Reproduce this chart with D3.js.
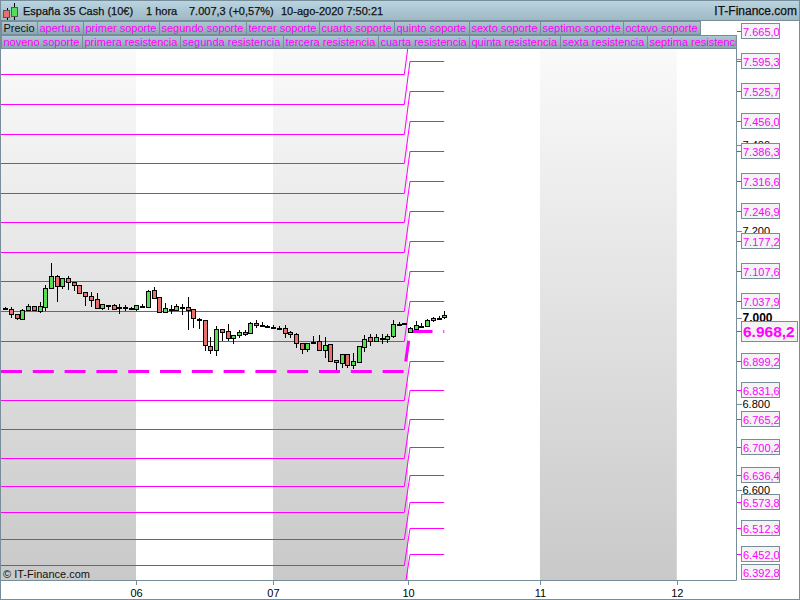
<!DOCTYPE html>
<html><head><meta charset="utf-8">
<script src="https://cdn.jsdelivr.net/npm/d3@7"></script>
<style>html,body{margin:0;padding:0;background:#fff}svg{display:block}text{font-family:"Liberation Sans",Arial,sans-serif}</style>
</head><body><svg id="c" width="800" height="600"></svg>
<script>
const open=[7021.8,7021,7007.8,6997.8,7018.7,7026.4,7015.6,7025.6,7068.2,7096.1,7074.4,7091.4,7082.1,7075.2,7058.9,7049.6,7042.7,7023.3,7029.5,7028.7,7024.9,7024.9,7023.3,7021,
7027.9,7025.6,7064.3,7047.2,7014,7020.1,7018.6,7024,7024,7019.4,6997.3,6993.8,6933.5,6925.7,6972.9,6968.3,6953.6,6960.6,6966,6963.6,6986.9,6983.4,6981.1,6978.7,
6976.5,6975.3,6966,6961.4,6940.5,6928.1,6940.5,6945.9,6925.8,6938.2,6901.8,6895.6,6914.9,6891,6897.9,6931.2,6954.4,6946.7,6953.2,6951.3,6956.7,6985.8,6986.9,6967.6,6974.5,6981.5,6979.9,6993.9,6999.7,7000.8];
const high=[7024.1,7024.1,7007.8,7019.5,7031.1,7026.4,7036.5,7075.9,7127,7098.4,7091.4,7096.1,7083.7,7075.2,7058.9,7059.7,7057.4,7031.1,7030.3,7031.1,7031.1,7029.5,7024.1,7028.7,
7032.5,7063.5,7070.5,7047.2,7033.3,7028.7,7032.5,7031.8,7047.2,7019.4,6998.5,6993.8,6954.4,6979.9,6972.9,6984.6,6960.6,6970.6,6970.6,6989.2,6993.8,6990.7,6982.2,6983,
6980.7,6983,6968.3,6963.7,6940.5,6940.5,6957.5,6959.8,6955.2,6938.2,6901.8,6914.9,6914.9,6918,6933.5,6959,6961.4,6961.4,6961.4,6961.4,6993.9,6990.8,6987.6,6977.6,6992.3,6986.9,6996.2,7000.8,7004.7,7014.8];
const low=[7019.5,7000.1,6995.5,6995.5,7014.8,7015.6,7011.7,7015.6,7068.2,7037.2,7066.7,7064.3,7062,7058.1,7028,7024.9,7023.3,7018.7,7018.7,7021,7009.4,7016.4,7021,7016.4,
7024,7022.5,7046.5,7012.4,7012.4,7009.3,7016.3,7007,6972.2,6976.8,6972.9,6923.4,6916.5,6911.8,6945.9,6946.6,6939.7,6953.6,6956.7,6963.6,6975.3,6979.1,6979.9,6975.3,
6972.2,6953.6,6952.1,6930.4,6916.5,6920.4,6940.5,6925.8,6906.4,6896.4,6878.6,6884,6884,6881.7,6894,6921.1,6935.1,6945.1,6939.7,6942,6953.6,6979.9,6986.2,6965.2,6971.4,6975.3,6977.6,6989.2,6993.9,6996.2];
const close=[7021.8,7007.8,7000.1,7018.7,7026.4,7018.7,7026.4,7068.2,7096.1,7074.4,7091.4,7082.1,7076.7,7058.1,7049.6,7041.9,7023.3,7031.1,7029.5,7021,7024.9,7024.9,7023.3,7028.7,
7027.9,7061.9,7046.5,7012.4,7021.7,7020.1,7026.3,7024,7018.6,6998.5,6997.3,6935.8,6925.7,6972.9,6966,6953.6,6960.6,6966,6961.3,6986.9,6982.2,6983.4,6981.1,6978.7,
6976.5,6965.2,6961.4,6940.5,6928.1,6940.5,6944.3,6925.8,6935.8,6900.2,6896.4,6914.9,6891,6898.7,6933.5,6951.3,6946.7,6954.4,6953.2,6956.7,6984.6,6985.8,6986.9,6975.3,6982.3,6981.5,6993.9,6998.5,6999.7,7005.5];
const previousLevels=[7564.8,7495.2,7425.7,7358.5,7289,7221.8,7152.3,7085,7015.5,6946,6876.5,6809.3,6742.1,6674.9,6610,6549.7,6487.1,6426.9,6369,6311];
const currentLevels=[7665,7595.3,7525.7,7456,7386.3,7316.6,7246.9,7177.2,7107.6,7037.9,6968.2,6899.2,6831.6,6765.2,6700.2,6636.4,6573.8,6512.3,6452,6392.8];
const pivotIndex=10;
const levelBreak=[70,71];
const lastBar=77;
const priceTicks=[7600,7400,7200,7000,6800,6600];
const dayLabels=["06","07","10","11","12"];
const dayPositions=[22.93,46.96,70.65,93.8,117.8];
const tabsRow1=["Precio","apertura","primer soporte","segundo soporte","tercer soporte","cuarto soporte","quinto soporte","sexto soporte","septimo soporte","octavo soporte"];
const tabsRow2=["noveno soporte","primera resistencia","segunda resistencia","tercera resistencia","cuarta resistencia","quinta resistencia","sexta resistencia","septima resistencia"];

const M={l:1,r:736,t:48,b:580};
const svg=d3.select("#c");
const x=d3.scaleLinear().domain([0,77]).range([5.3,444.2]);
const y=d3.scaleLinear().domain([7625,6392.1]).range([M.t,M.b]);
const fmt=d=>d3.format(",.1f")(d).replace(/,/g,"#").replace(".",",").replace("#",".");
const defs=svg.append("defs");
const g1=defs.append("linearGradient").attr("id","band").attr("x1",0).attr("x2",0).attr("y1",0).attr("y2",1);
g1.append("stop").attr("offset",0).attr("stop-color","#fafafa");g1.append("stop").attr("offset",1).attr("stop-color","#c9c9c9");
const g2=defs.append("linearGradient").attr("id","hdr").attr("x1",0).attr("x2",0).attr("y1",0).attr("y2",1);
g2.append("stop").attr("offset",0).attr("stop-color","#bad6e2");g2.append("stop").attr("offset",1).attr("stop-color","#9db7c3");
const g3=defs.append("linearGradient").attr("id","tab").attr("x1",0).attr("x2",0).attr("y1",0).attr("y2",1);
g3.append("stop").attr("offset",0).attr("stop-color","#aec8d4");g3.append("stop").attr("offset",1).attr("stop-color","#8aa5b1");
defs.append("clipPath").attr("id","plot").append("rect").attr("x",M.l).attr("y",M.t).attr("width",M.r-M.l).attr("height",M.b-M.t);

const frame="#778d99";
svg.append("rect").attr("width",800).attr("height",600).attr("fill","#fff");
const bandEdges=[x.invert(M.l),dayPositions[0],dayPositions[1],dayPositions[2],dayPositions[3],dayPositions[4]];
const bands=[[bandEdges[0],bandEdges[1]],[bandEdges[2],bandEdges[3]],[bandEdges[4],bandEdges[5]]];
svg.append("g").selectAll("rect").data(bands).join("rect")
 .attr("x",d=>x(d[0])).attr("width",d=>x(d[1])-x(d[0])).attr("y",M.t).attr("height",M.b-M.t).attr("fill","url(#band)");

const plot=svg.append("g").attr("clip-path","url(#plot)");
const line=d3.line().x(d=>x(d[0])).y(d=>Math.round(y(d[1]))+0.5);
const series=previousLevels.map((p,i)=>[[x.invert(M.l),p],[levelBreak[0],p],[levelBreak[1],currentLevels[i]],[lastBar,currentLevels[i]]]);
plot.append("g").selectAll("path").data(series).join("path")
 .attr("d",line).attr("fill","none").attr("stroke","#ff00ff")
 .attr("stroke-width",(d,i)=>i===pivotIndex?3:1)
 .attr("stroke-dasharray",(d,i)=>i===pivotIndex?"21 10.8":null);

const candles=plot.append("g").selectAll("g").data(open.map((o,i)=>({i,o,h:high[i],l:low[i],c:close[i]}))).join("g");
candles.append("line").attr("x1",d=>Math.round(x(d.i))+.5).attr("x2",d=>Math.round(x(d.i))+.5)
 .attr("y1",d=>Math.round(y(d.h))).attr("y2",d=>Math.round(y(d.l))).attr("stroke","#000").attr("shape-rendering","crispEdges");
candles.append("rect").attr("x",d=>Math.round(x(d.i))-1.5).attr("width",4)
 .attr("y",d=>Math.round(y(Math.max(d.o,d.c)))+.5)
 .attr("height",d=>Math.max(1,Math.round(y(Math.min(d.o,d.c)))-Math.round(y(Math.max(d.o,d.c)))))
 .attr("fill",d=>d.o===d.c?"#000":d.c>d.o?"#55dd55":"#e8706a").attr("stroke","#000").attr("shape-rendering","crispEdges");

const axR=svg.append("g").attr("transform",`translate(${M.r+.5},0)`).call(d3.axisRight(y).tickValues(priceTicks).tickSize(5).tickPadding(1).tickFormat(d=>d3.format(",")(d).replace(",",".")));
axR.select(".domain").remove();
axR.selectAll("line").attr("stroke",frame).attr("shape-rendering","crispEdges");
axR.selectAll("text").attr("font-size",d=>d===7000?12:11).attr("fill","#000").attr("font-weight",d=>d===7000?"bold":"normal").attr("x",6);

const labels=svg.append("g").selectAll("g").data(currentLevels.map((v,i)=>({v,i}))).join("g")
 .attr("transform",d=>{const yy=Math.round(y(d.v));return `translate(0,${Math.min(yy,572)})`;});
labels.filter(d=>y(d.v)<572).append("line").attr("x1",M.r+1).attr("x2",742).attr("y1",.5).attr("y2",.5).attr("stroke","#ff00ff").attr("shape-rendering","crispEdges");
labels.append("rect").attr("x",741.5).attr("y",d=>d.i===pivotIndex?-9.5:-7.5).attr("width",d=>d.i===pivotIndex?56:38).attr("height",d=>d.i===pivotIndex?20:15)
 .attr("fill","#f3f3f3").attr("stroke",frame);
labels.append("text").attr("x",743).attr("y",d=>d.i===pivotIndex?6:4.5)
 .attr("font-size",d=>d.i===pivotIndex?15.5:11).attr("font-weight",d=>d.i===pivotIndex?"bold":"normal").attr("fill","#ff00ff").text(d=>fmt(d.v));

const dayScale=d3.scaleOrdinal().domain(dayLabels).range(dayPositions.map(x));
const axB=svg.append("g").attr("transform",`translate(0,${M.b})`).call(d3.axisBottom(dayScale).tickSize(5).tickPadding(4));
axB.select(".domain").remove();
axB.selectAll("line").attr("stroke",frame).attr("shape-rendering","crispEdges");
axB.selectAll("text").attr("font-size",11).attr("fill","#000").attr("font-family","Liberation Sans");

svg.append("path").attr("d",`M${M.r+.5} ${M.t}V${M.b+.5}H0`).attr("fill","none").attr("stroke",frame);
svg.append("text").attr("x",3).attr("y",578).attr("font-size",11).attr("fill","#111").text("© IT-Finance.com");

svg.append("rect").attr("x",0).attr("y",0).attr("width",800).attr("height",21).attr("fill","url(#hdr)");
svg.append("path").attr("d","M0 .5H800M0 20.5H800").attr("stroke",frame);
const hdr=[["España 35 Cash (10€)",23],["1 hora",146],["7.007,3 (+0,57%)",189],["10-ago-2020 7:50:21",281]];
svg.append("g").selectAll("text").data(hdr).join("text").attr("x",d=>d[1]).attr("y",15).attr("font-size",11).attr("fill","#111").attr("stroke","#111").attr("stroke-width",.25).text(d=>d[0]);
svg.append("text").attr("x",797).attr("y",15).attr("text-anchor","end").attr("font-size",12).attr("fill","#111").attr("stroke","#111").attr("stroke-width",.25).text("IT-Finance.com");
svg.append("path").attr("d","M7.5 8V20M14.5 3V20").attr("stroke","#000").attr("fill","none");
svg.append("rect").attr("x",3.5).attr("y",10.5).attr("width",6).attr("height",7).attr("fill","#e8706a").attr("stroke","#555");
svg.append("rect").attr("x",11.5).attr("y",7.5).attr("width",6).attr("height",9).attr("fill","#55dd55").attr("stroke","#555");

function tabs(names,top,h,clipW){
 let px=1;
 const row=svg.append("g");
 names.forEach((n,i)=>{
  const g=row.append("g");
  const r=g.append("rect").attr("x",px+.5).attr("y",top+.5).attr("height",h-1).attr("fill","url(#tab)").attr("stroke",frame);
  const t=g.append("text").attr("x",px+2.5).attr("y",top+11).attr("font-size",11).attr("fill",n==="Precio"?"#111":"#ff00ff").text(n);
  const w=Math.round(t.node().getComputedTextLength())+5;
  const rw=Math.min(w,clipW-px);
  r.attr("width",rw);
  if(w>clipW-px){ const id="tc"+top+i; defs.append("clipPath").attr("id",id).append("rect").attr("x",px).attr("y",top).attr("width",clipW-px).attr("height",h); t.attr("clip-path",`url(#${id})`); }
  px+=rw;
 });
}
tabs(tabsRow1,21,14,736);
tabs(tabsRow2,35,14,736);
svg.append("rect").attr("x",.5).attr("y",.5).attr("width",799).attr("height",599).attr("fill","none").attr("stroke",frame);
</script></body></html>
